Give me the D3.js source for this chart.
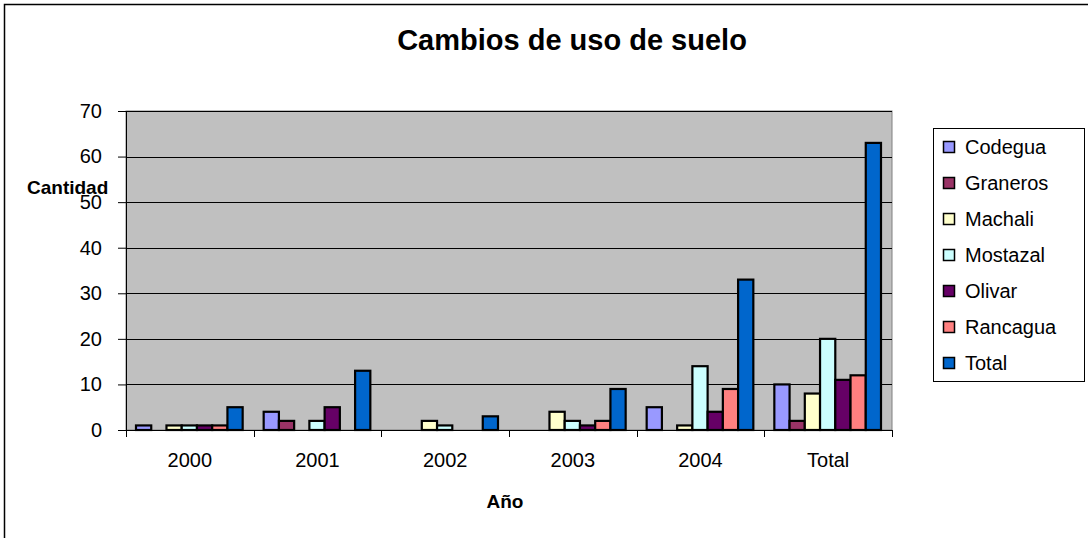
<!DOCTYPE html>
<html>
<head>
<meta charset="utf-8">
<script src="https://cdn.jsdelivr.net/npm/d3@7"></script>
<style>
  body { margin: 0; background: #fff; }
  svg { display: block; font-family: "Liberation Sans", Arial, sans-serif; }
</style>
</head>
<body>
<div id="chart"></div>
<script>
// categories and series
var years = ["2000", "2001", "2002", "2003", "2004", "Total"];
var series = ["Codegua", "Graneros", "Machali", "Mostazal", "Olivar", "Rancagua", "Total"];
var colors = ["#9999FF", "#993366", "#FFFFCC", "#CCFFFF", "#660066", "#FF8080", "#0066CC"];

var codegua  = [1, 4, 0, 0, 5, 10];
var graneros = [0, 2, 0, 0, 0, 2];
var machali  = [1, 0, 2, 4, 1, 8];
var mostazal = [1, 2, 1, 2, 14, 20];
var olivar   = [1, 5, 0, 1, 4, 11];
var rancagua = [1, 0, 0, 2, 9, 12];
var total    = [5, 13, 3, 9, 33, 63];

var yTicks = [0, 10, 20, 30, 40, 50, 60, 70];

var values = [codegua, graneros, machali, mostazal, olivar, rancagua, total];

var width = 1088, height = 538;
var margin = {top: 111, right: 196, bottom: 108, left: 126};

var svg = d3.select("#chart").append("svg")
  .attr("width", width)
  .attr("height", height);

// outer frame
svg.append("rect")
  .attr("x", 4.5).attr("y", 4.5)
  .attr("width", 1100).attr("height", 600)
  .attr("fill", "#fff")
  .attr("stroke", "#000")
  .attr("stroke-width", 1.5);

var x0 = d3.scaleBand()
  .domain(years)
  .range([margin.left, width - margin.right])
  .padding(0);

var x1 = d3.scaleBand()
  .domain(series)
  .range([10, x0.bandwidth() - 11])
  .padding(0);

var y = d3.scaleLinear()
  .domain([0, 70])
  .range([height - margin.bottom, margin.top]);

var color = d3.scaleOrdinal().domain(series).range(colors);

// plot area
svg.append("rect")
  .attr("x", margin.left)
  .attr("y", y(70))
  .attr("width", width - margin.right - margin.left)
  .attr("height", y(0) - y(70))
  .attr("fill", "#C0C0C0")
  .attr("stroke", "#808080");

// grid lines
svg.append("g")
  .selectAll("line")
  .data(yTicks.slice(1))
  .join("line")
  .attr("x1", margin.left)
  .attr("x2", width - margin.right)
  .attr("y1", d => Math.round(y(d)) + 0.5)
  .attr("y2", d => Math.round(y(d)) + 0.5)
  .attr("stroke", "#000")
  .attr("stroke-width", 1);

// bars
var rows = [];
years.forEach((yr, i) => {
  series.forEach((s, j) => {
    rows.push({year: yr, name: s, value: values[j][i]});
  });
});

svg.append("g")
  .selectAll("rect")
  .data(rows.filter(d => d.value > 0))
  .join("rect")
  .attr("x", d => x0(d.year) + x1(d.name))
  .attr("y", d => y(d.value))
  .attr("width", x1.bandwidth())
  .attr("height", d => y(0) - y(d.value))
  .attr("fill", d => color(d.name))
  .attr("stroke", "#000")
  .attr("stroke-width", 2.2);

// y axis
var yAxis = g => g
  .attr("transform", `translate(${margin.left},0)`)
  .call(d3.axisLeft(y).tickValues(yTicks).tickSize(8).tickPadding(16))
  .call(g => g.selectAll("path,line").attr("stroke", "#000"))
  .call(g => g.selectAll("text")
    .attr("font-size", 20)
    .attr("font-family", "Liberation Sans, Arial, sans-serif")
    .attr("fill", "#000"));

svg.append("g").call(yAxis);

// x axis
var xAxis = g => g
  .attr("transform", `translate(0,${y(0)})`)
  .call(d3.axisBottom(x0).tickSize(0).tickPadding(23).tickSizeOuter(0))
  .call(g => g.select(".domain").attr("stroke", "#000"))
  .call(g => g.selectAll("text")
    .attr("font-size", 20)
    .attr("font-family", "Liberation Sans, Arial, sans-serif")
    .attr("fill", "#000"));

svg.append("g").call(xAxis);

// category separators below the axis
svg.append("g")
  .selectAll("line")
  .data(years.map(d => x0(d)).concat([x0("Total") + x0.bandwidth()]))
  .join("line")
  .attr("x1", d => Math.round(d) + 0.5)
  .attr("x2", d => Math.round(d) + 0.5)
  .attr("y1", y(0))
  .attr("y2", y(0) + 7)
  .attr("stroke", "#000");

// titles
svg.append("text")
  .attr("x", 572)
  .attr("y", 50)
  .attr("text-anchor", "middle")
  .attr("font-size", 29)
  .attr("font-weight", "bold")
  .text("Cambios de uso de suelo");

svg.append("text")
  .attr("x", 27)
  .attr("y", 194)
  .attr("font-size", 19)
  .attr("font-weight", "bold")
  .text("Cantidad");

svg.append("text")
  .attr("x", 505)
  .attr("y", 508)
  .attr("text-anchor", "middle")
  .attr("font-size", 19)
  .attr("font-weight", "bold")
  .text("Año");

// legend
var legend = svg.append("g");

legend.append("rect")
  .attr("x", 933.5)
  .attr("y", 128.5)
  .attr("width", 151)
  .attr("height", 253)
  .attr("fill", "#fff")
  .attr("stroke", "#000");

var item = legend.selectAll("g")
  .data(series)
  .join("g")
  .attr("transform", (d, i) => `translate(943,${147 + i * 36})`);

item.append("rect")
  .attr("x", 0.5)
  .attr("y", -5.5)
  .attr("width", 11)
  .attr("height", 11)
  .attr("fill", d => color(d))
  .attr("stroke", "#000")
  .attr("stroke-width", 1.5);

item.append("text")
  .attr("x", 22)
  .attr("y", 0)
  .attr("dy", "0.36em")
  .attr("font-size", 20)
  .text(d => d);
</script>
</body>
</html>
